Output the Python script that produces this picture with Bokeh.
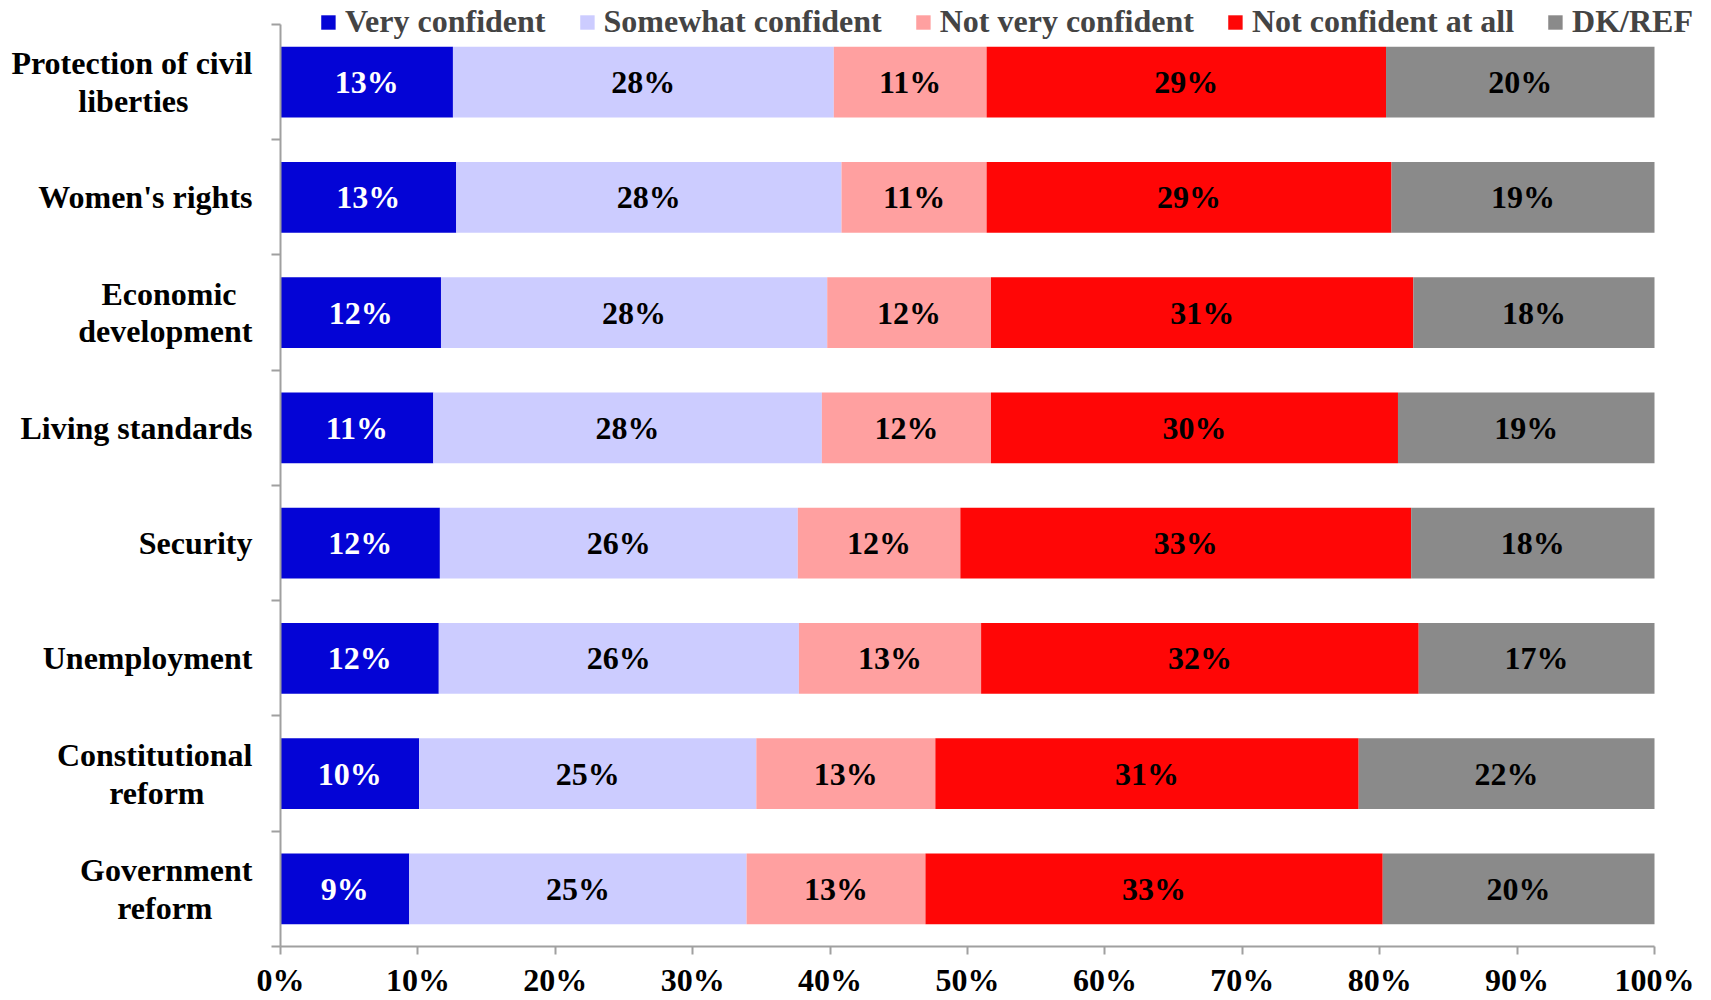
from bokeh.plotting import figure
from bokeh.models import (Range1d, LinearAxis, FixedTicker, PrintfTickFormatter,
                          Legend, LegendItem, ColumnDataSource)
from bokeh.core.properties import value
from bokeh.embed import file_html
from bokeh.resources import INLINE

categories = ["Protection of civil\nliberties", "Women's rights", "Economic\ndevelopment",
              "Living standards", "Security", "Unemployment", "Constitutional\nreform",
              "Government\nreform"]
series_names = ["Very confident", "Somewhat confident", "Not very confident",
                "Not confident at all", "DK/REF"]
very_confident = [12.55, 12.79, 11.68, 11.12, 11.60, 11.52, 10.09, 9.37]
somewhat_confident = [27.72, 28.04, 28.11, 28.28, 26.05, 26.21, 24.54, 24.55]
not_very_confident = [11.12, 10.56, 11.92, 12.31, 11.83, 13.26, 13.03, 13.02]
not_confident_at_all = [29.07, 29.47, 30.74, 29.62, 32.81, 31.85, 30.81, 33.28]
dk_ref = [19.54, 19.14, 17.55, 18.67, 17.71, 17.16, 21.53, 19.78]
colors = ["#0404D6", "#CCCCFF", "#FFA0A0", "#FF0606", "#8A8A8A"]
label_colors = ["white", "black", "black", "black", "black"]
x_ticks = [0, 10, 20, 30, 40, 50, 60, 70, 80, 90, 100]

# layout (pixels)
W, H = 1711, 1000
BORDER_L, BORDER_R, BORDER_T, BORDER_B = 280, 15, 0, 52
DATA_RIGHT_PX = 1654      # where 100% sits
DATA_TOP_PAD = 24         # blank band above first category boundary (legend lives there)
# trailing non-breaking spaces per label line, to centre the lines of wrapped labels
line_pads = [[0, 8], [0], [2, 0], [0], [0], [0], [0, 6], [0, 5]]

FONT = value("Liberation Serif")
FS = "32px"
AXIS_COLOR = "#A0A0A0"

series = [very_confident, somewhat_confident, not_very_confident, not_confident_at_all, dk_ref]
n = len(categories)
ys = [n - i - 0.5 for i in range(n)]

frame_w = W - BORDER_L - BORDER_R
frame_h = H - BORDER_T - BORDER_B
x_end = 100.0 * frame_w / (DATA_RIGHT_PX - BORDER_L)
y_end = n * frame_h / (frame_h - DATA_TOP_PAD)

p = figure(width=W, height=H, x_range=Range1d(0, x_end), y_range=Range1d(0, y_end),
           x_axis_type=None, y_axis_type=None, output_backend="svg",
           toolbar_location=None, min_border_left=BORDER_L, min_border_right=BORDER_R,
           min_border_top=BORDER_T, min_border_bottom=BORDER_B)
p.outline_line_color = None
p.xgrid.visible = False
p.ygrid.visible = False

cum = [0.0] * n
items = []
for name, vals, col, lcol in zip(series_names, series, colors, label_colors):
    left = list(cum)
    right = [l + v for l, v in zip(left, vals)]
    src = ColumnDataSource(dict(
        y=ys, left=left, right=right,
        xm=[(l + r) / 2 for l, r in zip(left, right)],
        txt=["%d%%" % int(v + 0.5) for v in vals]))
    r = p.hbar(y="y", left="left", right="right", height=0.614, source=src,
               fill_color=col, line_color=None)
    p.text(x="xm", y="y", text="txt", source=src, text_align="center",
           text_baseline="middle", text_font=FONT, text_font_style="bold",
           text_font_size=FS, text_color=lcol)
    items.append(LegendItem(label=name, renderers=[r]))
    cum = right

xaxis = LinearAxis(ticker=FixedTicker(ticks=x_ticks),
                   formatter=PrintfTickFormatter(format="%d%%"), bounds=(0, 100))
xaxis.axis_line_color = AXIS_COLOR
xaxis.axis_line_width = 2
xaxis.major_tick_line_color = AXIS_COLOR
xaxis.major_tick_line_width = 2
xaxis.major_tick_out = 8
xaxis.major_tick_in = 0
xaxis.minor_tick_line_color = None
xaxis.major_label_standoff = 7
xaxis.major_label_text_font = "Liberation Serif"
xaxis.major_label_text_font_style = "bold"
xaxis.major_label_text_font_size = FS
xaxis.major_label_text_color = "black"
p.add_layout(xaxis, "below")


def centred(label, pads):
    return "\n".join(line + "\u00a0" * k for line, k in zip(label.split("\n"), pads))


yaxis = LinearAxis(ticker=FixedTicker(ticks=ys, minor_ticks=list(range(n + 1))),
                   major_label_overrides={yv: centred(c, pd) for yv, c, pd
                                          in zip(ys, categories, line_pads)},
                   bounds=(0, n))
yaxis.axis_line_color = AXIS_COLOR
yaxis.axis_line_width = 2
yaxis.major_tick_line_color = None
yaxis.major_tick_out = 0
yaxis.major_tick_in = 0
yaxis.minor_tick_line_color = AXIS_COLOR
yaxis.minor_tick_line_width = 2
yaxis.minor_tick_out = 9
yaxis.minor_tick_in = 0
yaxis.major_label_standoff = 19
yaxis.major_label_text_line_height = 1.05
yaxis.major_label_text_font = "Liberation Serif"
yaxis.major_label_text_font_style = "bold"
yaxis.major_label_text_font_size = FS
yaxis.major_label_text_color = "black"
p.add_layout(yaxis, "left")

legend = Legend(items=items, orientation="horizontal", location="top_right",
                label_text_font="Liberation Serif", label_text_font_style="bold",
                label_text_font_size=FS, glyph_width=18, glyph_height=18,
                label_standoff=8, spacing=32, padding=0, margin=3,
                border_line_color=None, background_fill_alpha=0)
p.add_layout(legend)

open("out.html", "w").write(file_html(p, INLINE))
